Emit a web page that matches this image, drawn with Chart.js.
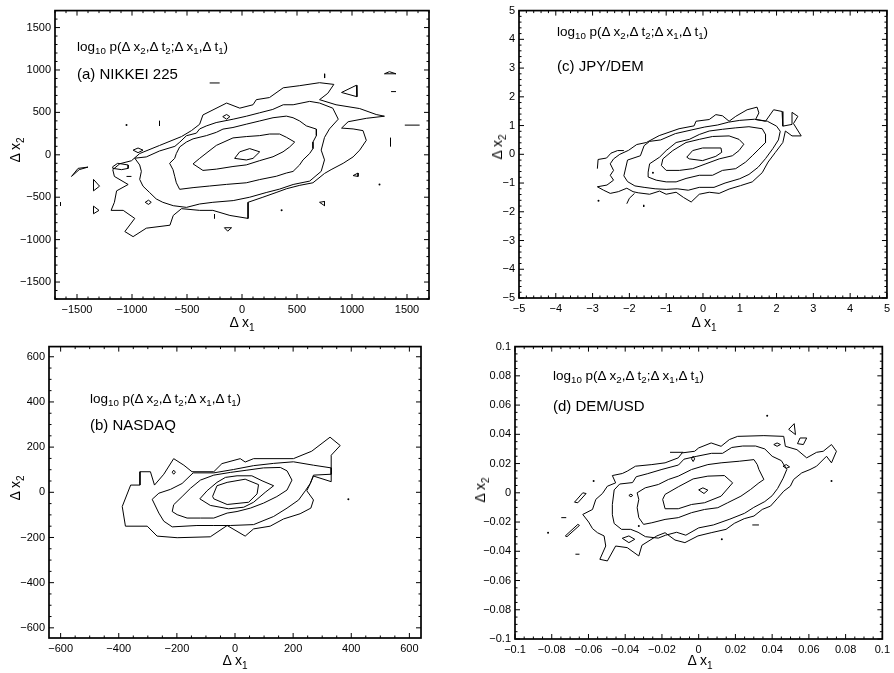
<!DOCTYPE html>
<html>
<head>
<meta charset="utf-8">
<script src="https://cdn.jsdelivr.net/npm/chart.js@4.4.1/dist/chart.umd.min.js"></script>
<style>
body { margin: 0; background: #fff; }
#page { position: relative; width: 894px; height: 673px; font-family: "Liberation Sans", Arial, sans-serif; color: #000; }
canvas { position: absolute; }
.txt { position: absolute; white-space: nowrap; line-height: 1; }
.ann { font-size: 13.5px; }
.lab { font-size: 15px; }
.ax { font-size: 14px; }
.hor { transform: translateX(-50%); }
.rot { transform: translate(-50%, -50%) rotate(-90deg); }
sub { font-size: 0.72em; vertical-align: -0.35em; line-height: 0; }
</style>
</head>
<body>
<div id="page">
  <canvas id="cA" width="440" height="336" style="left:0;top:0"></canvas>
  <canvas id="cC" width="447" height="336" style="left:447px;top:0"></canvas>
  <canvas id="cB" width="440" height="337" style="left:0;top:336px"></canvas>
  <canvas id="cD" width="447" height="337" style="left:447px;top:336px"></canvas>

  <div class="txt ann" style="left:77px;top:40px">log<sub>10</sub> p(&Delta; x<sub>2</sub>,&Delta; t<sub>2</sub>;&Delta; x<sub>1</sub>,&Delta; t<sub>1</sub>)</div>
  <div class="txt lab" style="left:77px;top:66px">(a) NIKKEI 225</div>
  <div class="txt ax hor" style="left:242px;top:315px">&Delta; x<sub>1</sub></div>
  <div class="txt ax rot" style="left:15px;top:150px">&Delta; x<sub>2</sub></div>

  <div class="txt ann" style="left:557px;top:25px">log<sub>10</sub> p(&Delta; x<sub>2</sub>,&Delta; t<sub>2</sub>;&Delta; x<sub>1</sub>,&Delta; t<sub>1</sub>)</div>
  <div class="txt lab" style="left:557px;top:58px">(c) JPY/DEM</div>
  <div class="txt ax hor" style="left:704px;top:315px">&Delta; x<sub>1</sub></div>
  <div class="txt ax rot" style="left:497px;top:147px">&Delta; x<sub>2</sub></div>

  <div class="txt ann" style="left:90px;top:392px">log<sub>10</sub> p(&Delta; x<sub>2</sub>,&Delta; t<sub>2</sub>;&Delta; x<sub>1</sub>,&Delta; t<sub>1</sub>)</div>
  <div class="txt lab" style="left:90px;top:417px">(b) NASDAQ</div>
  <div class="txt ax hor" style="left:235px;top:653px">&Delta; x<sub>1</sub></div>
  <div class="txt ax rot" style="left:15px;top:488px">&Delta; x<sub>2</sub></div>

  <div class="txt ann" style="left:553px;top:369px">log<sub>10</sub> p(&Delta; x<sub>2</sub>,&Delta; t<sub>2</sub>;&Delta; x<sub>1</sub>,&Delta; t<sub>1</sub>)</div>
  <div class="txt lab" style="left:553px;top:398px">(d) DEM/USD</div>
  <div class="txt ax hor" style="left:700px;top:653px">&Delta; x<sub>1</sub></div>
  <div class="txt ax rot" style="left:480px;top:490px">&Delta; x<sub>2</sub></div>
</div>

<script>
// ---- (a) NIKKEI 225 ----
const nikkeiRange = [-1700, 1700];
const nikkeiTicks = [-1500, -1000, -500, 0, 500, 1000, 1500];
const nikkeiRings = [
  [[-67,-42],[-21,35],[70,73],[161,35],[100,-42],[39,-61]],
  [[-445,-107],[-385,-42],[-309,35],[-233,111],[-82,199],[39,215],[161,226],[251,245],[342,245],[403,207],[479,150],[433,92],[373,35],[282,-23],[161,-69],[39,-119],[-82,-138],[-233,-169],[-355,-184]],
  [[-567,92],[-506,150],[-445,188],[-324,226],[-233,265],[-173,303],[-82,322],[39,361],[161,399],[282,437],[403,456],[464,437],[524,399],[585,341],[676,303],[676,226],[645,150],[645,73],[615,15],[554,-61],[524,-119],[464,-196],[403,-215],[312,-253],[161,-292],[39,-330],[-142,-349],[-294,-368],[-445,-387],[-567,-407],[-597,-330],[-612,-253],[-627,-176],[-658,-100],[-612,-42],[-597,15]],
  [[-975,-40],[-870,-25],[-750,45],[-610,100],[-565,150],[-505,225],[-415,255],[-385,305],[-325,340],[-235,380],[-80,420],[40,455],[160,495],[280,535],[375,590],[465,590],[615,630],[705,610],[825,550],[875,420],[795,305],[750,205],[720,55],[750,-60],[720,-195],[615,-310],[465,-350],[340,-405],[220,-445],[70,-500],[-80,-540],[-265,-560],[-385,-580],[-505,-620],[-625,-600],[-720,-560],[-780,-520],[-840,-445],[-900,-370],[-930,-290],[-915,-195],[-930,-120]],
  [[-930,15],[-750,110],[-550,215],[-460,285],[-385,360],[-355,470],[-140,610],[-20,550],[100,590],[130,650],[250,675],[375,790],[525,815],[705,850],[835,830],[780,725],[705,650],[855,590],[1070,545],[1220,475],[1295,455],[1130,430],[965,390],[905,315],[1010,305],[1100,285],[1130,170],[1070,55],[1010,-25],[920,-100],[810,-175],[750,-220],[645,-330],[525,-360],[405,-400],[310,-445],[190,-500],[55,-560],[55,-750],[-110,-715],[-265,-655],[-385,-655],[-550,-635],[-625,-715],[-655,-830],[-870,-865],[-990,-965],[-1065,-905],[-975,-750],[-1080,-655],[-1190,-655],[-1160,-560],[-1140,-425],[-1035,-350],[-1160,-255],[-1175,-175],[-1110,-105],[-1005,-70]],
  [[1295,955],[1340,980],[1400,955]],
  [[905,735],[1040,820],[1045,685]],
  [[-175,450],[-140,475],[-110,450],[-140,420]],
  [[-990,55],[-945,80],[-900,55],[-945,25]],
  [[-1175,-140],[-1130,-100],[-1035,-120],[-1035,-160],[-1095,-175],[-1175,-160]],
  [[-1550,-255],[-1490,-160],[-1400,-145],[-1480,-175]],
  [[-1350,-290],[-1295,-370],[-1350,-425]],
  [[-1350,-605],[-1300,-655],[-1350,-695]],
  [[-880,-560],[-850,-535],[-825,-560],[-850,-585]],
  [[-160,-860],[-95,-860],[-130,-900]],
  [[705,-560],[750,-550],[750,-600]],
  [[1010,-245],[1055,-215],[1055,-255]]
];
const nikkeiMarks = [
  [[-294,847],[-203,847]], [[751,955],[751,905]], [[1355,745],[1400,745]],
  [[1480,350],[1615,350]], [[1350,200],[1350,100]], [[-750,400],[-750,340]],
  [[-1050,-255],[-1005,-255]], [[-1650,-560],[-1650,-600]], [[-250,-700],[-250,-750]],
  [[-1050,350]], [[360,-655]], [[1250,-350]]
];

// ---- (c) JPY/DEM ----
const jpyRange = [-5, 5];
const jpyTicks = [-5, -4, -3, -2, -1, 0, 1, 2, 3, 4, 5];
const jpyRings = [
  [[-0.44,-0.10],[-0.28,0.13],[-0.01,0.22],[0.49,0.22],[0.51,0.07],[0.35,-0.07],[-0.01,-0.22],[-0.37,-0.16]],
  [[-1.13,-0.39],[-1.09,-0.16],[-0.82,0.13],[-0.46,0.41],[-0.10,0.52],[0.26,0.62],[0.71,0.64],[0.98,0.52],[1.11,0.35],[0.98,0.13],[0.80,-0.05],[0.44,-0.16],[0.08,-0.33],[-0.28,-0.50],[-0.64,-0.56],[-1.0,-0.56]],
  [[-1.49,-0.62],[-1.45,-0.33],[-1.18,-0.10],[-1.0,0.13],[-0.73,0.41],[-0.37,0.52],[-0.10,0.69],[0.17,0.81],[0.53,0.87],[0.89,0.92],[1.25,0.96],[1.61,0.89],[1.70,0.69],[1.70,0.41],[1.52,0.18],[1.34,-0.05],[1.16,-0.27],[0.89,-0.50],[0.53,-0.56],[0.26,-0.73],[-0.10,-0.73],[-0.46,-0.84],[-0.73,-0.96],[-1.0,-0.96],[-1.27,-0.90],[-1.49,-0.79]],
  [[-2.15,-0.75],[-2.05,-0.2],[-1.7,-0.05],[-1.6,0.3],[-1.45,0.45],[-1.15,0.5],[-0.75,0.72],[-0.3,0.85],[0.05,0.95],[0.4,1.02],[0.7,1.12],[1.0,1.18],[1.4,1.22],[1.75,1.15],[2.0,0.98],[2.1,0.8],[2.05,0.5],[1.9,0.2],[1.7,-0.15],[1.5,-0.45],[1.25,-0.7],[1.0,-0.85],[0.6,-1.0],[0.3,-1.15],[-0.1,-1.15],[-0.4,-1.25],[-0.7,-1.2],[-1.0,-1.22],[-1.3,-1.2],[-1.6,-1.15],[-1.85,-1.1],[-2.05,-0.95]],
  [[-2.43,-0.16],[-2.26,0.0],[-2.02,0.14],[-1.80,0.34],[-1.54,0.41],[-1.19,0.65],[-0.65,0.89],[-0.24,0.99],[-0.19,1.15],[0.17,1.21],[0.35,1.38],[0.53,1.34],[0.71,1.15],[0.89,1.32],[1.20,1.55],[1.47,1.64],[1.52,1.44],[1.43,1.21],[1.70,1.15],[1.92,1.55],[2.15,1.49],[2.17,0.98],[2.42,1.04],[2.42,1.46],[2.58,1.32],[2.46,1.07],[2.67,0.64],[2.42,0.64],[2.24,0.81],[2.17,0.41],[1.97,0.07],[1.77,-0.27],[1.61,-0.64],[1.34,-0.96],[1.02,-1.09],[0.71,-1.21],[0.44,-1.36],[0.17,-1.32],[-0.10,-1.39],[-0.32,-1.66],[-0.53,-1.50],[-0.73,-1.32],[-1.0,-1.39],[-1.18,-1.28],[-1.45,-1.39],[-1.76,-1.34],[-1.90,-1.30],[-2.07,-1.18],[-2.30,-1.30],[-2.52,-1.36],[-2.70,-1.25],[-2.87,-1.13],[-2.61,-1.07],[-2.43,-0.90],[-2.52,-0.73],[-2.43,-0.56],[-2.52,-0.33]]
];
const jpyMarks = [
  [[-2.87,-0.50],[-2.85,-0.18],[-2.62,-0.13],[-2.50,0.04],[-2.32,0.13],[-2.15,0.13]],
  [[-2.07,-1.72],[-2.0,-1.53],[-1.86,-1.36]],
  [[-1.36,-0.64]], [[-2.84,-1.62]], [[-1.61,-1.76],[-1.61,-1.83]]
];

// ---- (b) NASDAQ ----
const nasdaqXRange = [-640, 640];
const nasdaqYRange = [-645, 645];
const nasdaqTicks = [-600, -400, -200, 0, 200, 400, 600];
const nasdaqRings = [
  [[-77,-18],[-62,29],[-27,44],[35,58],[81,34],[76,-7],[47,-44],[-27,-54],[-73,-29]],
  [[-121,-29],[-96,7],[-62,44],[-33,66],[7,73],[58,73],[93,51],[133,29],[104,0],[64,-44],[30,-66],[-22,-73],[-85,-58]],
  [[-216,-85],[-211,-55],[-182,-19],[-153,18],[-119,54],[-73,76],[-16,88],[41,98],[98,108],[156,110],[179,95],[196,54],[179,10],[144,-19],[98,-48],[53,-70],[7,-85],[-27,-92],[-73,-114],[-119,-114],[-165,-114],[-199,-99]],
  [[-285,-31],[-262,-4],[-222,13],[-182,39],[-144,86],[-73,86],[-5,101],[64,118],[133,128],[201,135],[270,120],[331,108],[331,80],[270,76],[259,39],[242,7],[219,-34],[179,-70],[133,-107],[64,-143],[-16,-147],[-73,-147],[-131,-147],[-216,-153],[-245,-128],[-262,-92]],
  [[-388,-63],[-377,-150],[-302,-150],[-268,-194],[-199,-201],[-85,-197],[-27,-147],[35,-194],[64,-162],[121,-150],[167,-118],[224,-95],[261,-70],[270,-34],[247,7],[259,39],[270,72],[331,47],[331,164],[362,207],[327,244],[264,182],[201,149],[64,149],[35,134],[18,149],[-45,127],[-73,91],[-148,91],[-176,120],[-211,149],[-245,80],[-277,32],[-291,91],[-327,91],[-327,32],[-359,32]],
  [[-216,89],[-211,98],[-205,89],[-211,80]]
];
const nasdaqMarks = [
  [[390,-31]]
];

// ---- (d) DEM/USD ----
const demRange = [-0.1, 0.1];
const demTicks = [-0.1, -0.08, -0.06, -0.04, -0.02, 0, 0.02, 0.04, 0.06, 0.08, 0.1];
const demRings = [
  [[0,0.002],[0.0023,0.0034],[0.005,0.0018],[0.0029,-0.0005]],
  [[-0.0196,-0.0045],[-0.0183,-0.0011],[-0.0111,0.0041],[-0.0030,0.0095],[0.0050,0.0114],[0.0140,0.0118],[0.0185,0.0068],[0.0122,-0.0023],[0.0032,-0.0068],[-0.0039,-0.0080],[-0.0111,-0.0109],[-0.0183,-0.0109]],
  [[-0.0335,0],[-0.0291,0.0034],[-0.0219,0.0057],[-0.0165,0.0091],[-0.0111,0.0114],[-0.0039,0.0159],[0.0050,0.0193],[0.0122,0.0205],[0.0221,0.0216],[0.0301,0.0227],[0.0319,0.0193],[0.0328,0.0159],[0.0355,0.0091],[0.0328,0.0068],[0.0283,0.0023],[0.0230,-0.0023],[0.0158,-0.0068],[0.0104,-0.0102],[0.0032,-0.0114],[-0.0039,-0.0136],[-0.0111,-0.0170],[-0.0183,-0.0182],[-0.0255,-0.0205],[-0.0300,-0.0216],[-0.0326,-0.0170],[-0.0335,-0.0102],[-0.0326,-0.0045]],
  [[-0.047,-0.008],[-0.046,0.002],[-0.043,0.006],[-0.036,0.007],[-0.034,0.011],[-0.028,0.013],[-0.020,0.016],[-0.011,0.019],[-0.008,0.023],[-0.001,0.025],[0.007,0.027],[0.013,0.027],[0.018,0.031],[0.024,0.032],[0.031,0.032],[0.036,0.030],[0.040,0.025],[0.045,0.022],[0.048,0.016],[0.046,0.010],[0.043,0.003],[0.040,-0.002],[0.036,-0.006],[0.030,-0.010],[0.025,-0.014],[0.017,-0.018],[0.008,-0.022],[0.000,-0.024],[-0.007,-0.029],[-0.012,-0.027],[-0.018,-0.029],[-0.022,-0.031],[-0.029,-0.030],[-0.033,-0.027],[-0.037,-0.025],[-0.042,-0.025],[-0.046,-0.021],[-0.047,-0.015]],
  [[-0.0631,-0.0148],[-0.0578,-0.0114],[-0.0560,-0.0045],[-0.0524,-0.0005],[-0.0497,0.0045],[-0.0452,0.0068],[-0.0470,0.0118],[-0.0416,0.0132],[-0.0389,0.0148],[-0.0344,0.0182],[-0.0255,0.0193],[-0.0183,0.0205],[-0.0111,0.0239],[-0.0090,0.0273],[-0.0022,0.0284],[0,0.0307],[0.0068,0.0341],[0.0122,0.0318],[0.0167,0.0364],[0.0212,0.0386],[0.0355,0.0391],[0.0463,0.0386],[0.0472,0.0318],[0.0535,0.0295],[0.0588,0.0239],[0.0642,0.0277],[0.0678,0.0284],[0.0723,0.0330],[0.0750,0.0284],[0.0723,0.0205],[0.0696,0.0250],[0.0642,0.0182],[0.0606,0.0159],[0.0561,0.0136],[0.0517,0.0091],[0.0499,0.0045],[0.0463,0.0011],[0.0427,-0.0041],[0.0391,-0.0091],[0.0346,-0.0114],[0.0301,-0.0159],[0.0248,-0.0177],[0.0194,-0.0209],[0.0149,-0.0250],[0.0068,-0.0273],[-0.0004,-0.0295],[-0.0075,-0.0341],[-0.0129,-0.0323],[-0.0183,-0.0273],[-0.0228,-0.0295],[-0.0309,-0.0359],[-0.0326,-0.0432],[-0.0389,-0.0375],[-0.0452,-0.0364],[-0.0497,-0.0466],[-0.0538,-0.0455],[-0.0506,-0.0364],[-0.0515,-0.0295],[-0.0551,-0.0273],[-0.0578,-0.0245],[-0.0599,-0.0200]],
  [[0.049,0.0434],[0.052,0.0473],[0.0527,0.0398]],
  [[0.0538,0.0336],[0.0552,0.0375],[0.0588,0.0375],[0.0570,0.0330]],
  [[0.0409,0.033],[0.0427,0.0341],[0.0445,0.033],[0.0427,0.0318]],
  [[-0.0039,0.0232],[-0.003,0.025],[-0.0022,0.0232],[-0.003,0.0214]],
  [[0.0459,0.0182],[0.0477,0.0193],[0.0495,0.0177],[0.0477,0.0168]],
  [[-0.0676,-0.0064],[-0.0631,0],[-0.0613,-0.0005],[-0.0658,-0.0068]],
  [[-0.038,-0.0018],[-0.0369,-0.0009],[-0.0359,-0.0018],[-0.0369,-0.0027]],
  [[-0.0726,-0.0295],[-0.0658,-0.0216],[-0.0649,-0.0223],[-0.0717,-0.03]],
  [[-0.0416,-0.0311],[-0.038,-0.0295],[-0.0348,-0.0318],[-0.038,-0.0341]]
];
const demMarks = [
  [[-0.0156,0.0277],[-0.0084,0.0277]], [[-0.0748,-0.017],[-0.0721,-0.017]],
  [[-0.0671,-0.042],[-0.0649,-0.042]], [[0.0292,-0.022],[0.0328,-0.022]],
  [[0.0373,0.0527]], [[0.0723,0.008]], [[-0.0572,0.008]], [[-0.082,-0.0273]],
  [[-0.0326,-0.0227]], [[0.0126,-0.0318]]
];

const FONT = '"Liberation Sans", Arial, sans-serif';

// frame round the plot with inward major and minor ticks on all four sides
const frameTicks = {
  id: 'frameTicks',
  afterDraw(chart, args, opts) {
    const { ctx, chartArea: { left, right, top, bottom }, scales: { x, y } } = chart;
    ctx.save();
    ctx.strokeStyle = '#000';
    ctx.lineWidth = 1;
    const run = (scale, step, major, draw) => {
      const i0 = Math.ceil(scale.min / step - 1e-6), i1 = Math.floor(scale.max / step + 1e-6);
      for (let i = i0; i <= i1; i++) {
        const v = i * step;
        const isMajor = major.some(m => Math.abs(m - v) < step / 10);
        draw(scale.getPixelForValue(v), isMajor ? 5 : 2.5);
      }
    };
    ctx.beginPath();
    run(x, opts.xMinor, opts.xMajor, (p, len) => {
      ctx.moveTo(p, bottom); ctx.lineTo(p, bottom - len);
      ctx.moveTo(p, top); ctx.lineTo(p, top + len);
    });
    run(y, opts.yMinor, opts.yMajor, (p, len) => {
      ctx.moveTo(left, p); ctx.lineTo(left + len, p);
      ctx.moveTo(right, p); ctx.lineTo(right - len, p);
    });
    ctx.stroke();
    ctx.lineWidth = 1.7;
    ctx.strokeRect(left, top, right - left, bottom - top);
    ctx.restore();
  }
};

function toLine(pts) {
  return {
    data: pts.map(p => ({ x: p[0], y: p[1] })),
    showLine: pts.length > 1,
    borderColor: '#000',
    borderWidth: 1,
    pointRadius: pts.length === 1 ? 1 : 0,
    pointBackgroundColor: '#000',
    pointBorderWidth: 0,
    tension: 0
  };
}

function fmt(v) {
  return String(v).replace('-', '\u2212');
}

function axis(range, ticks, fit) {
  return {
    type: 'linear',
    min: range[0],
    max: range[1],
    afterBuildTicks: s => { s.ticks = ticks.map(v => ({ value: v })); },
    afterFit: fit,
    grid: { display: false, drawTicks: false },
    border: { display: false },
    ticks: { autoSkip: false, maxRotation: 0, padding: 4, color: '#000', font: { family: FONT, size: 11 }, callback: fmt }
  };
}

function makePanel(id, rings, marks, xr, yr, xt, yt, xMinor, yMinor, box) {
  const datasets = rings.map(r => toLine(r.concat([r[0]]))).concat(marks.map(toLine));
  new Chart(document.getElementById(id), {
    type: 'scatter',
    data: { datasets },
    options: {
      responsive: false,
      animation: false,
      layout: { padding: { top: box.top, right: box.right, left: 0, bottom: 0 } },
      plugins: {
        legend: { display: false },
        tooltip: { enabled: false },
        frameTicks: { xMinor, yMinor, xMajor: xt, yMajor: yt }
      },
      scales: {
        x: axis(xr, xt, s => { s.height = box.xh; }),
        y: axis(yr, yt, s => { s.width = box.yw; })
      }
    },
    plugins: [frameTicks]
  });
}

makePanel('cA', nikkeiRings, nikkeiMarks, nikkeiRange, nikkeiRange, nikkeiTicks, nikkeiTicks, 100, 100,
  { top: 4, right: 11, xh: 37, yw: 55 });
makePanel('cC', jpyRings, jpyMarks, jpyRange, jpyRange, jpyTicks, jpyTicks, 0.2, 0.2,
  { top: 6, right: 5, xh: 38, yw: 72 });
makePanel('cB', nasdaqRings, nasdaqMarks, nasdaqXRange, nasdaqYRange, nasdaqTicks, nasdaqTicks, 50, 50,
  { top: 7, right: 19, xh: 35, yw: 49 });
makePanel('cD', demRings, demMarks, demRange, demRange, demTicks, demTicks, 0.005, 0.005,
  { top: 10, right: 8, xh: 34, yw: 68 });
</script>
</body>
</html>
